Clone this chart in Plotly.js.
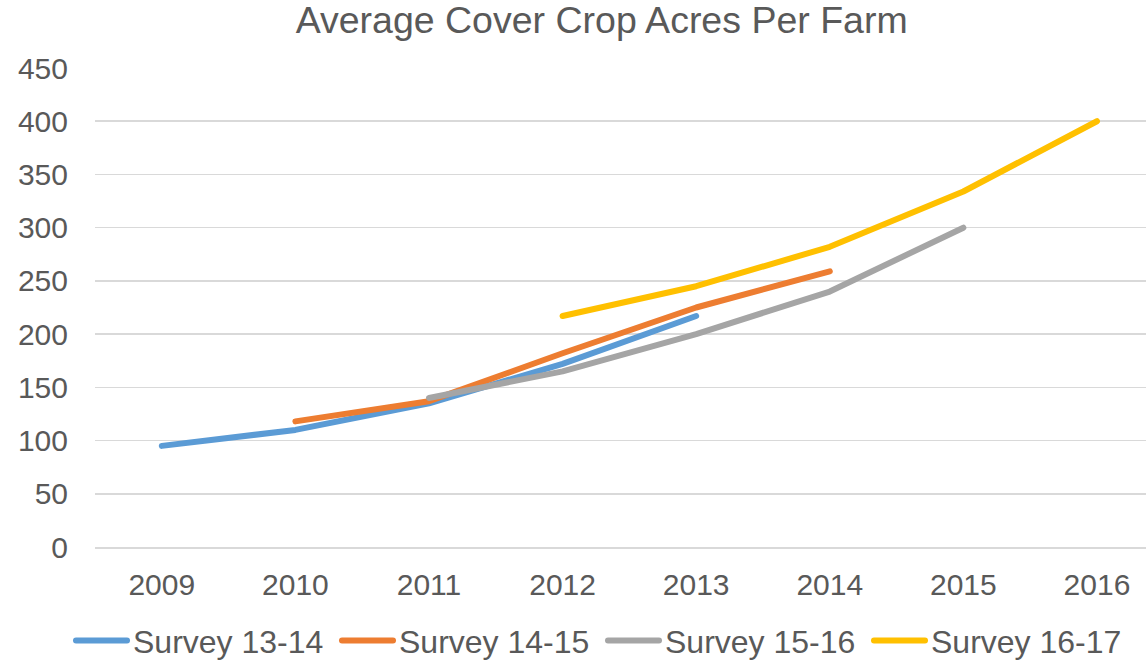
<!DOCTYPE html>
<html>
<head>
<meta charset="utf-8">
<script src="https://cdn.plot.ly/plotly-3.0.1.min.js"></script>
<style>
html,body{margin:0;padding:0;background:#fff;}
#chart{width:1146px;height:662px;}
.js-line{stroke-linecap:round;stroke-linejoin:round;}
</style>
</head>
<body>
<div id="chart"></div>
<script>
const years = ["2009","2010","2011","2012","2013","2014","2015","2016"];
const survey1314 = [95, 110, 135, 172, 217, null, null, null];
const survey1415 = [null, 118, 137, 182, 225, 259, null, null];
const survey1516 = [null, null, 140, 165, 200, 240, 300, null];
const survey1617 = [null, null, null, 217, 245, 282, 334, 400];
const seriesNames = ["Survey 13-14","Survey 14-15","Survey 15-16","Survey 16-17"];
const seriesColors = ["#5B9BD5","#ED7D31","#A5A5A5","#FFC000"];
const seriesValues = [survey1314, survey1415, survey1516, survey1617];

const font = '"Liberation Sans", Arial, sans-serif';
const legendIds = ['legend','legend2','legend3','legend4'];
const traces = seriesValues.map((v,i)=>({
  type:'scatter', mode:'lines', x:years, y:v, name:seriesNames[i],
  line:{color:seriesColors[i], width:6}, connectgaps:false, hoverinfo:'skip',
  legend: legendIds[i]
}));

const legendTextStarts = [133, 399, 665, 931];
const layout = {
  width:1146, height:662,
  margin:{l:95, r:0, t:68, b:115, autoexpand:false},
  paper_bgcolor:'#fff', plot_bgcolor:'#fff',
  font:{family:font, color:'#595959'},
  title:{text:'Average Cover Crop Acres Per Farm', font:{size:37.5, color:'#595959', family:font}, x:0.525, xanchor:'center', y:0.97, yanchor:'middle', yref:'container'},
  xaxis:{type:'category', range:[-0.5,7.367], showgrid:false, zeroline:false, showline:true, linecolor:'#D9D9D9', linewidth:1.5, ticks:'', tickfont:{size:30, color:'#595959'}, ticklabelstandoff:10, fixedrange:true},
  yaxis:{range:[0,450], dtick:50, tick0:0, showgrid:true, gridcolor:'#D9D9D9', gridwidth:1.5, zeroline:false, showline:false, ticks:'', tickfont:{size:30, color:'#595959'}, ticklabelstandoff:26, fixedrange:true},
  showlegend:true
};
legendIds.forEach((id,i)=>{
  layout[id] = {orientation:'h', x:(legendTextStarts[i]-40)/1146, xanchor:'left', xref:'container', y:0.032, yref:'container', yanchor:'middle', font:{size:32, color:'#595959'}, bgcolor:'rgba(0,0,0,0)', borderwidth:0};
});
function fixLegendLines(){
  document.querySelectorAll('g.legendlines path').forEach(p=>{
    p.setAttribute('d','M-17,0h51');
    p.style.strokeLinecap='round';
  });
  document.querySelectorAll('g.infolayer [clip-path]').forEach(e=>{
    if (e.closest('[class^="legend"]')) e.removeAttribute('clip-path');
  });
}
const gd = document.getElementById('chart');
Plotly.newPlot(gd, traces, layout, {displayModeBar:false, staticPlot:true}).then(()=>{
  fixLegendLines();
  setTimeout(fixLegendLines, 50);
  setTimeout(fixLegendLines, 300);
});
</script>
</body>
</html>
